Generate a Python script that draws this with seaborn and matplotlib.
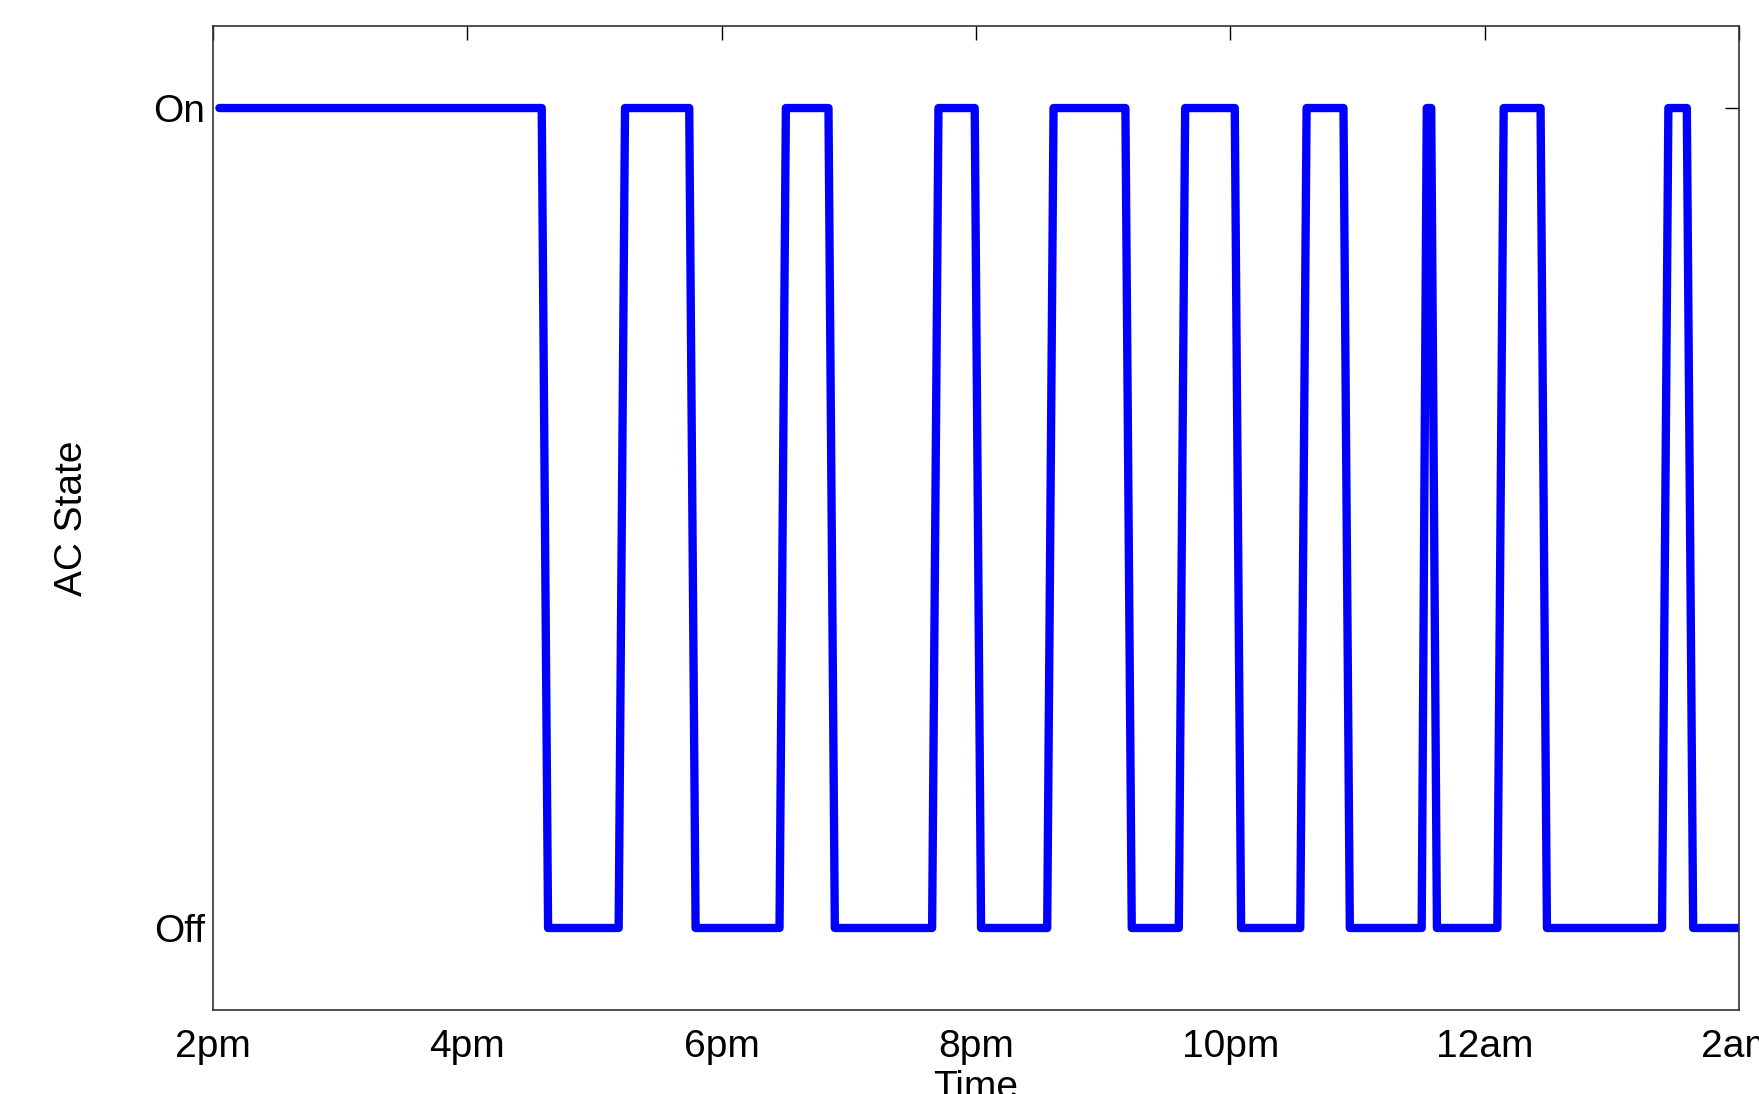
import pandas
import matplotlib.pyplot as plt
import seaborn as sns

# corner points of the AC on/off trace (hours since midnight, 24+ = next day)
times = [14.05, 16.585, 16.635, 17.19, 17.24, 17.745, 17.795, 18.455, 18.505, 18.84,
         18.89, 19.655, 19.705, 19.99, 20.04, 20.56, 20.61, 21.175, 21.225, 21.595,
         21.645, 22.035, 22.085, 22.55, 22.60, 22.89, 22.94, 23.505, 23.545, 23.58,
         23.625, 24.10, 24.15, 24.44, 24.49, 25.395, 25.445, 25.59, 25.64, 26.0]
states = [1, 1, 0, 0, 1, 1, 0, 0, 1, 1,
          0, 0, 1, 1, 0, 0, 1, 1, 0, 0,
          1, 1, 0, 0, 1, 1, 0, 0, 1, 1,
          0, 0, 1, 1, 0, 0, 1, 1, 0, 0]

xticks = [14, 16, 18, 20, 22, 24, 26]
xtick_labels = ["2pm", "4pm", "6pm", "8pm", "10pm", "12am", "2am"]
yticks = [0, 1]
ytick_labels = ["Off", "On"]

df = pandas.DataFrame({"time": times, "state": states})

sns.set_style("white")
plt.rcParams["font.family"] = ["Liberation Sans", "DejaVu Sans"]

fig = plt.figure(figsize=(17.59, 10.94), dpi=100)
ax = fig.add_axes([0.1211, 0.0768, 0.8675, 0.8994])
sns.lineplot(data=df, x="time", y="state", sort=False, estimator=None,
             color="#0000ff", linewidth=6.0, ax=ax)
for l in ax.get_lines():
    l.set_solid_joinstyle("round")

ax.set_xlim(14, 26)
ax.set_ylim(-0.1, 1.1)
ax.set_xticks(xticks)
ax.set_xticklabels(xtick_labels)
ax.set_yticks(yticks)
ax.set_yticklabels(ytick_labels)
ax.tick_params(direction="in", length=10, width=1, color="black",
               top=True, right=True, labelsize=28, labelcolor="black")
ax.tick_params(axis="x", pad=14)
ax.tick_params(axis="y", pad=6)
for s in ax.spines.values():
    s.set_color("#333333")
    s.set_linewidth(1.2)

ax.set_xlabel("Time", fontsize=28, labelpad=3, color="black")
ax.set_ylabel("AC State", fontsize=28, labelpad=45, color="black")

fig.savefig("out.png", dpi=100)
